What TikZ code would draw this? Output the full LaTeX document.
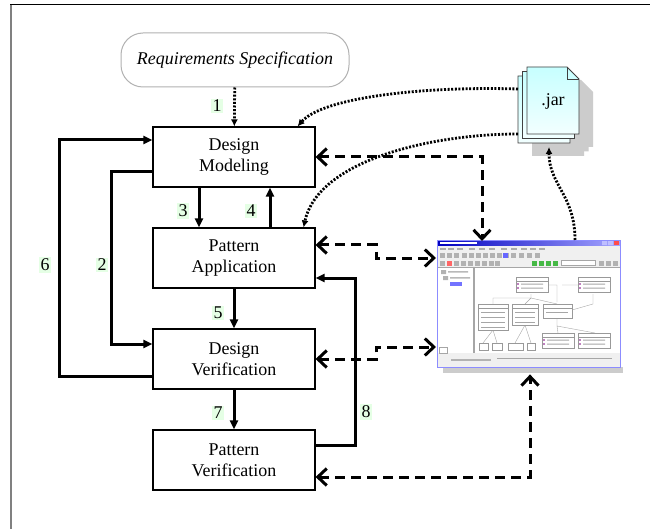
\documentclass[tikz,border=0pt]{standalone}
\usepackage{fontspec}
\setmainfont{Liberation Serif}
\usetikzlibrary{arrows.meta}

\tikzset{
    stage/.style={draw, line width=1.1bp, minimum width=162bp, minimum height=60bp,
        inner sep=0pt, align=center, font=\fontsize{18}{21.5}\selectfont},
    flow/.style={line width=3bp, -{Triangle[length=9bp,width=8bp]}},
    link/.style={line width=3bp, dash pattern=on 10bp off 6bp,
        {Straight Barb[length=9bp,width=17bp]}-{Straight Barb[length=9bp,width=17bp]}},
    uses/.style={line width=2.8bp, dash pattern=on 2bp off 1.6bp,
        -{Latex[length=7bp,width=7bp]}},
    num/.style={fill=green!10, inner sep=1.5bp, font=\fontsize{18}{18}\selectfont},
    umlbox/.style={draw=gray!80, fill=white, line width=0.5bp},
}

\begin{document}
\begin{tikzpicture}[x=1bp, y=-1bp]
                \useasboundingbox (0,0) rectangle (650,529);
                \fill[white] (0,0) rectangle (650,529);
                \draw[line width=1bp] (10,5) -- (650,5);
                \draw[gray, line width=1.6bp] (11,5) -- (11,529);

                \node[draw=gray!60, line width=1bp, rounded corners=22bp,
                    minimum width=228bp, minimum height=54bp,
                    font=\itshape\fontsize{18}{18}\selectfont]
                    (req) at (235,60) {Requirements Specification};

                \node[stage] (dm) at (234,157) {Design\\Modeling};
                \node[stage] (pa) at (234,258) {Pattern\\Application};
                \node[stage] (dv) at (234,359) {Design\\Verification};
                \node[stage] (pv) at (234,460) {Pattern\\Verification};

                % jar files
                \foreach \s in {0,4.5,9}
                    \fill[gray!40] ({532+\s},{89-\s}) -- ++(40,0) -- ++(12,12)
                        -- ++(0,55) -- ++(-52,0) -- cycle;
                \foreach \s in {0,4.5,9} {
                    \shadedraw[top color=cyan!22, bottom color=cyan!5, draw=black!75,
                        line width=0.8bp] ({518+\s},{76-\s}) -- ++(40,0) -- ++(12,12)
                        -- ++(0,55) -- ++(-52,0) -- cycle;
                    \draw[black!75, line width=0.6bp] ({558+\s},{76-\s}) -- ++(0,12) -- ++(12,0);
                }
                \node[font=\fontsize{18}{18}\selectfont] (jar) at (553,101) {.jar};
                \coordinate (jar1) at (518,89);
                \coordinate (jar2) at (518,134);
                \coordinate (jar3) at (549,147);

                % tool window
                \node[minimum width=183bp, minimum height=127bp, inner sep=0pt,
                    anchor=north west] (shot) at (437,240) {};
                \begin{scope}[shift={(437,240)}]
                    \fill[gray!40] (6,127) rectangle (186,133);
                    \fill[white] (0,0) rectangle (183,127);
                    \shade[left color=blue!75!black, right color=blue!35] (0,0) rectangle (183,6);
                    \fill[red!70] (177,1) rectangle (182,5);
                    \fill[blue!25] (165,1) rectangle (170,5) (171,1) rectangle (176,5);
                    \fill[white] (3,2) rectangle (40,4);
                    \fill[gray!12] (0,6) rectangle (183,27);
                    \foreach \x in {3,11,20,32,42,52,64,74,84,93,102}
                        \fill[gray!65] (\x,8) rectangle ++(6,1.5);
                    \foreach \x in {3,10,17,25,32,39,46,53,60,67,74,82,90,98}
                        \fill[gray!60] (\x,12.5) rectangle ++(5,5);
                    \foreach \x in {3,10,17,24,31,38,45,52,58}
                        \fill[gray!60] (\x,20.5) rectangle ++(5,5);
                    \fill[red!60] (10,20.5) rectangle ++(5,5);
                    \fill[blue!60] (66,12.5) rectangle ++(5,5);
                    \foreach \x in {95,102,109,116}
                        \fill[green!45!gray] (\x,20.5) rectangle ++(5,5);
                    \draw[gray!70, line width=0.4bp, fill=white] (124,20.5) rectangle (158,25.5);
                    \foreach \x in {162,169,176}
                        \fill[gray!60] (\x,20.5) rectangle ++(5,5);
                    \draw[gray!70, line width=0.4bp] (0,27) rectangle (36,113) (37,27) rectangle (183,113);
                    \fill[gray!60] (4,30) rectangle ++(5,4) (6,36) rectangle ++(5,4);
                    \fill[gray!55] (11,31) rectangle ++(20,1.5) (13,37) rectangle ++(20,1.5);
                    \fill[blue!55] (13,42) rectangle ++(12,4);
                    \fill[gray!12] (0,113) rectangle (183,127);
                    \draw[gray!70, line width=0.4bp] (2,107) rectangle (10,113);
                    \fill[gray!60] (14,119) rectangle ++(40,2);
                    \draw[gray!70, line width=0.4bp] (60,118) -- (175,118);
                    \draw[gray!70, line width=0.4bp] (36,27) -- (36,113);
                    % class diagram
                    \draw[gray!70, line width=0.4bp]
                        (94,54) -- (94,58) -- (56,58) -- (56,64)
                        (94,58) -- (88,64) (94,58) -- (120,64)
                        (120,78) -- (120,86) -- (121,93) (120,86) -- (158,93)
                        (56,90) -- (46,103) (56,90) -- (60,103)
                        (88,85) -- (78,103) (88,85) -- (94,103)
                        (141,45) -- (125,45) (156,54) -- (156,64) -- (135,70)
                        (110,45) -- (120,45) -- (120,62);
                    \foreach \a/\b in {79/37, 141/37, 105/93, 141/93} {
                        \draw[umlbox] (\a,\b) rectangle ++(32,15);
                        \draw[gray!80, line width=0.4bp] (\a,{\b+4}) -- ++(32,0);
                        \fill[violet] ({\a+2},{\b+7}) circle (0.9) ({\a+2},{\b+11}) circle (0.9);
                        \fill[gray!70] ({\a+5},{\b+6.5}) rectangle ++(22,1) ({\a+5},{\b+10.5}) rectangle ++(22,1);
                    }
                    \draw[umlbox] (41,64) rectangle (71,90);
                    \draw[umlbox] (75,64) rectangle (101,85);
                    \draw[umlbox] (106,64) rectangle (135,78);
                    \draw[gray!80, line width=0.4bp] (41,68) -- (71,68) (75,68) -- (101,68) (106,68) -- (135,68);
                    \foreach \y in {72,77,82,87}
                        \fill[gray!70] (44,\y) rectangle ++(24,1);
                    \foreach \y in {72,77,82}
                        \fill[gray!70] (78,\y) rectangle ++(20,1);
                    \fill[gray!70] (109,72) rectangle ++(22,1);
                    \foreach \a/\w in {42/9, 55/10, 71/15, 90/8}
                        \draw[umlbox] (\a,103) rectangle ++(\w,7);
                    \draw[blue!45, line width=0.8bp] (0,0) rectangle (183,127);
                \end{scope}

                % stage flow
                \draw[flow] ([xshift=-35bp]dm.south) -- ([xshift=-35bp]pa.north);
                \draw[flow] ([xshift=36bp]pa.north) -- ([xshift=36bp]dm.south);
                \draw[flow] (pa) -- (dv);
                \draw[flow] (dv) -- (pv);
                \draw[flow] ([yshift=-15bp]dm.west) -- ++(-41,0) |- ([yshift=15bp]dv.west);
                \draw[flow] ([yshift=-17bp]dv.west) -- ++(-93,0) |- ([yshift=17bp]dm.west);
                \draw[flow] ([yshift=15bp]pv.east) -- ++(40,0) |- ([yshift=-20bp]pa.east);

                % tool support
                \draw[link] (dm.east) -| ([xshift=45bp,yshift=-1bp]shot.north west);
                \draw[link] ([yshift=13bp]pa.east) -- ++(61,0) |- ([xshift=-1bp,yshift=-18bp]shot.north west);
                \draw[link] (dv.east) -- ++(61,0) |- ([xshift=-1bp,yshift=-107bp]shot.north west);
                \draw[link] ([yshift=-17bp]pv.east) -| ([xshift=93bp,yshift=-7bp]shot.south west);

                % inputs
                \draw[uses] (req) -- (dm);
                \draw[uses] (jar1) .. controls (420,86) and (322,98) .. ([xshift=-18bp]dm.north east);
                \draw[uses] (jar2) .. controls (432,134) and (318,160) .. ([xshift=-12bp]pa.north east);
                \draw[uses] ([xshift=138bp]shot.north west) .. controls (575,195) and (549,185) .. (jar3);

                \node[num] (n1) at (217,106) {1};
                \node[num] (n2) at (102,265) {2};
                \node[num] (n3) at (183,211) {3};
                \node[num] (n4) at (251,211) {4};
                \node[num] (n5) at (218,313) {5};
                \node[num] (n6) at (45,265) {6};
                \node[num] (n7) at (218,413) {7};
                \node[num] (n8) at (366,412) {8};
            \end{tikzpicture}
\end{document}
